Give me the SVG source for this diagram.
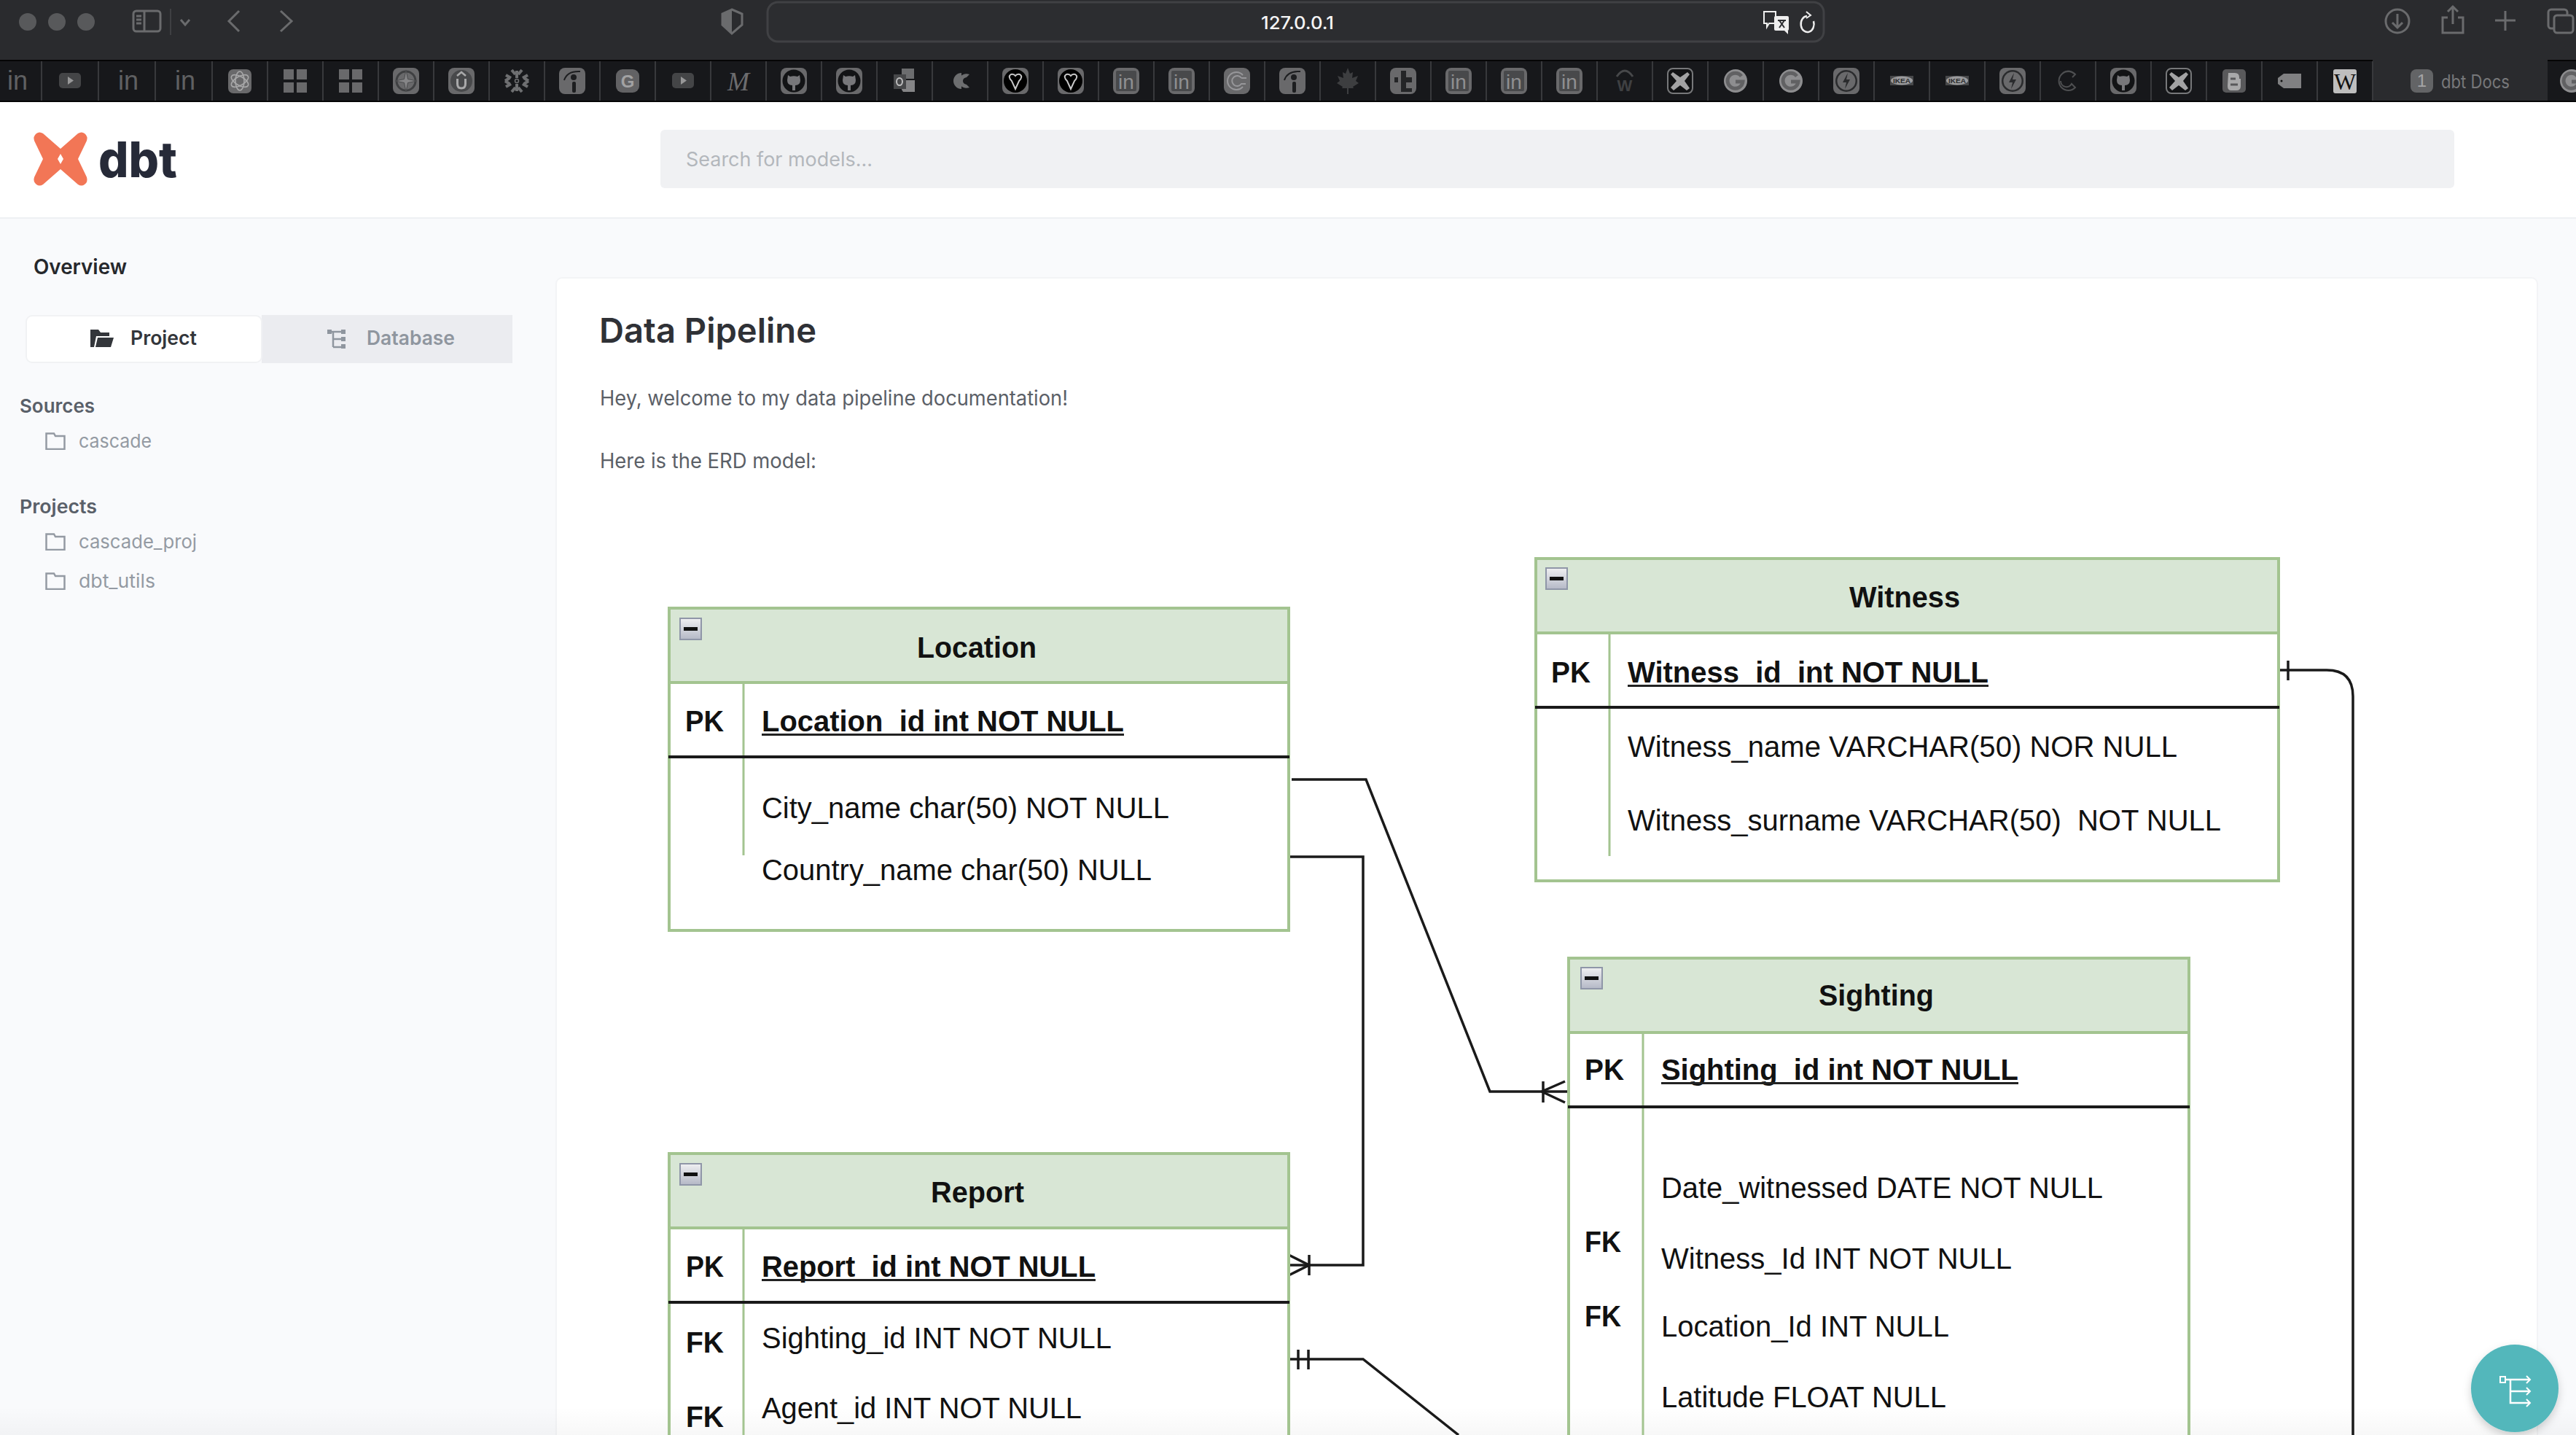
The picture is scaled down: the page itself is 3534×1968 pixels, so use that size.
<svg xmlns="http://www.w3.org/2000/svg" width="3534" height="1968" viewBox="0 0 3534 1968">
<style>
.b{font-family:"Liberation Sans",Arial,sans-serif;font-size:40px;fill:#111;font-weight:400}
.t{font-weight:700}
.u{font-weight:700}
.ul{stroke:#222;stroke-width:3;fill:none}
.m{text-anchor:middle}
.tb{fill:none;stroke:#a3c490;stroke-width:4}
.hd{fill:#d8e6d5;stroke:#a3c490;stroke-width:4}
.v{stroke:#a3c490;stroke-width:3}
.dv{stroke:#1a1a1a;stroke-width:4}
.c{fill:none;stroke:#1a1a1a;stroke-width:3.5}
.i{font-family:Inter,"Liberation Sans",sans-serif}
.w6{font-weight:600}
.sep{stroke:#38393c;stroke-width:2}
.ic{fill:#69696b}
.ol{fill:none;stroke:#6a6b6d;stroke-width:3}
.fo{fill:none;stroke:#949aa3;stroke-width:2.5}
.fi{font-family:"Liberation Sans",sans-serif}
</style>
<defs>
<linearGradient id="mg" x1="0" y1="0" x2="0" y2="1"><stop offset="0" stop-color="#f0f0f2"/><stop offset="1" stop-color="#b4b8c6"/></linearGradient>
<linearGradient id="fade" x1="0" y1="0" x2="0" y2="1"><stop offset="0" stop-color="#000" stop-opacity="0"/><stop offset="1" stop-color="#000" stop-opacity=".03"/></linearGradient>
<filter id="sh" x="-30%" y="-30%" width="160%" height="170%"><feDropShadow dx="0" dy="5" stdDeviation="6" flood-color="#000" flood-opacity=".18"/></filter>
<symbol id="minus" viewBox="0 0 31 31"><rect x="1" y="1" width="29" height="29" fill="url(#mg)" stroke="#8f96a8" stroke-width="2"/><rect x="6" y="13" width="19" height="5" fill="#111"/></symbol>
<symbol id="folder" viewBox="0 0 28 24"><path class="fo" d="M1.5 23V1.5H12L14 5H26.5V23Z"/></symbol>
<symbol id="tree" viewBox="0 0 26 26"><path d="M1 3H25M8 3V24M8 13H20M8 24H20" fill="none" stroke="#8f969f" stroke-width="2.5"/><rect x="0" y="0" width="6" height="6" fill="#8f969f"/><rect x="19" y="0" width="6" height="6" fill="#8f969f"/><rect x="19" y="10" width="6" height="6" fill="#8f969f"/><rect x="19" y="20" width="6" height="6" fill="#8f969f"/></symbol>
<symbol id="iin" viewBox="0 0 36 36"><text x="18" y="30" text-anchor="middle" class="fi" font-size="36" fill="#5f6062">in</text></symbol>
<symbol id="iyt" viewBox="0 0 36 36"><rect x="3" y="7" width="30" height="21" rx="5" fill="#444547"/><path d="M15 12L23 17.500L15 23Z" fill="#979798"/></symbol>
<symbol id="igpt" viewBox="0 0 36 36"><rect x="2" y="2" width="32" height="33" rx="7" class="ic"/><g fill="none" stroke="#a8a8a9" stroke-width="1.6"><ellipse cx="18" cy="18" rx="6" ry="13"/><ellipse cx="18" cy="18" rx="6" ry="13" transform="rotate(60 18 18)"/><ellipse cx="18" cy="18" rx="6" ry="13" transform="rotate(120 18 18)"/></g></symbol>
<symbol id="iwin" viewBox="0 0 36 36"><path class="ic" d="M2 2H16V16H2ZM20 2H34V16H20ZM2 20H16V34H2ZM20 20H34V34H20Z"/></symbol>
<symbol id="icmp" viewBox="0 0 36 36"><rect x="0" y="0" width="36" height="36" rx="8" class="ic"/><circle cx="18" cy="18" r="13" fill="none" stroke="#3f4042" stroke-width="3"/><path d="M18 3L20.500 15.500L33 18L20.500 20.500L18 33L15.500 20.500L3 18L15.500 15.500Z" fill="#858587" stroke="#4a4b4d"/></symbol>
<symbol id="iudm" viewBox="0 0 36 36"><rect x="0" y="0" width="36" height="36" rx="8" class="ic"/><circle cx="18" cy="18" r="15" fill="#48494b"/><path d="M12.500 15V22Q12.500 28 18 28T23.500 22V15" fill="none" stroke="#a9a9aa" stroke-width="3"/><path d="M12 11L18 6L24 11" fill="none" stroke="#a9a9aa" stroke-width="2.500"/></symbol>
<symbol id="isnow" viewBox="0 0 36 36"><g fill="none" stroke="#6e6f71" stroke-width="4"><path d="M18 14V4M18 22V32M10 14L3 10M26 14L33 10M10 22L3 26M26 22L33 26"/><path d="M11 3L16 9M25 3L20 9M11 33L16 27M25 33L20 27M2 18L8 14M2 18L8 22M34 18L28 14M34 18L28 22"/></g><circle cx="18" cy="18" r="2.500" fill="none" stroke="#6e6f71" stroke-width="1.500"/></symbol>
<symbol id="iind" viewBox="0 0 36 36"><rect x="0" y="0" width="36" height="36" rx="8" class="ic"/><path d="M7 17Q11 4 29 5" fill="none" stroke="#1d1e20" stroke-width="2"/><circle cx="20" cy="13" r="4" fill="#1d1e20"/><rect x="18" y="19" width="5" height="15" rx="2" fill="#1d1e20"/></symbol>
<symbol id="igg" viewBox="0 0 36 36"><rect x="2" y="2" width="32" height="32" rx="9" fill="#626264"/><text x="18" y="27" text-anchor="middle" class="fi" font-weight="700" font-size="24" fill="#a2a2a3">G</text></symbol>
<symbol id="imed" viewBox="0 0 36 36"><text x="18" y="31" text-anchor="middle" font-family="Liberation Serif" font-style="italic" font-size="36" fill="#6c6c6e">M</text></symbol>
<symbol id="igh" viewBox="0 0 36 36"><rect x="0" y="0" width="36" height="36" rx="8" class="ic"/><circle cx="18" cy="18" r="15.500" fill="#121315"/><path d="M10 10L13 12Q18 10.500 23 12L26 10L27 17Q27 24 20 24V31H16V24Q9 24 9 17Z" fill="#77777a"/></symbol>
<symbol id="iout" viewBox="0 0 36 36"><path d="M14 1H31V15H14Z" fill="#6c6d6f"/><path d="M14 17H32V33H16L14 30Z" fill="#858587"/><rect x="3" y="9" width="17" height="20" fill="#47484a"/><ellipse cx="11" cy="19" rx="4" ry="5" fill="none" stroke="#bdbdbe" stroke-width="2"/></symbol>
<symbol id="icc" viewBox="0 0 36 36"><path d="M20 7A11 11 0 1 0 20 29Z" fill="#6d6e70"/><path d="M31 9A11 11 0 0 0 16 18A11 11 0 0 0 31 27L27 23Q22 22 22 18T27 13Z" fill="#6d6e70"/></symbol>
<symbol id="iont" viewBox="0 0 36 36"><rect x="0" y="0" width="36" height="36" rx="8" class="ic"/><circle cx="18" cy="18" r="16" fill="#000"/><path d="M18 29L13 18Q7 12 12 9Q16 8 18 11Q20 8 24 9Q29 12 23 18Z" fill="none" stroke="#c8c8c9" stroke-width="2"/></symbol>
<symbol id="ili" viewBox="0 0 36 36"><rect x="0" y="0" width="36" height="36" rx="8" class="ic"/><rect x="4" y="4" width="28" height="28" rx="2" fill="#48494b"/><text x="18" y="29" text-anchor="middle" class="fi" font-size="28" fill="#8f8f91">in</text></symbol>
<symbol id="icb" viewBox="0 0 36 36"><rect x="0" y="0" width="36" height="36" rx="9" class="ic"/><path d="M26 10A12 12 0 1 0 26 26M24 14A7 7 0 1 0 24 22H30M24 14H31" fill="none" stroke="#97979a" stroke-width="2"/></symbol>
<symbol id="imap" viewBox="0 0 36 36"><path d="M18 0L21 8L25 6L24 14L32 11L29 18L33 21L25 26L26 28H19V36H17V28H10L11 26L3 21L7 18L4 11L12 14L11 6L15 8Z" fill="#3d3e40"/></symbol>
<symbol id="it" viewBox="0 0 36 36"><rect x="0" y="0" width="36" height="36" rx="8" class="ic"/><path d="M15 4H22V13H30V20H22V28H30V33H15ZM6 13H11V20H6Z" fill="#242527"/></symbol>
<symbol id="iw" viewBox="0 0 36 36"><path d="M7 12Q18 -4 29 12" fill="none" stroke="#47484a" stroke-width="3"/><text x="18" y="32" text-anchor="middle" class="fi" font-weight="700" font-size="22" fill="#3f4042">W</text></symbol>
<symbol id="ix" viewBox="0 0 36 36"><rect x="1" y="1" width="34" height="34" rx="7" fill="#111214" stroke="#77787a" stroke-width="2"/><path d="M8 6L18 13L28 6L31 9L24 18L31 28L27 31L18 24L9 31L5 27L13 18L5 9Z" fill="#a2a2a3"/></symbol>
<symbol id="igc" viewBox="0 0 36 36"><circle cx="18" cy="18" r="16" fill="#8e8e90"/><path d="M26 11.500A10.500 10.500 0 1 0 28 19H18" fill="none" stroke="#616163" stroke-width="5"/></symbol>
<symbol id="ibo" viewBox="0 0 36 36"><rect x="0" y="0" width="36" height="36" rx="8" class="ic"/><circle cx="18" cy="18" r="15" fill="#2a2b2d"/><circle cx="18" cy="18" r="12.500" fill="#69696b"/><path d="M20 7L13 20H18L16 29L23 16H18Z" fill="#2a2b2d"/></symbol>
<symbol id="iik" viewBox="0 0 36 36"><rect x="2" y="11" width="32" height="13" fill="#47484a"/><ellipse cx="18" cy="17.500" rx="15" ry="6" fill="#9a9a9c"/><text x="18" y="21" text-anchor="middle" class="fi" font-weight="700" font-size="9.500" fill="#2b2c2e" textLength="24" lengthAdjust="spacingAndGlyphs">IKEA</text></symbol>
<symbol id="icr" viewBox="0 0 36 36"><path d="M28 9A13 13 0 1 0 28 27L23 22A8 8 0 0 1 8 18" fill="none" stroke="#4e4f51" stroke-width="2"/><path d="M11 7Q19 1 28 9L24 13" fill="none" stroke="#4e4f51" stroke-width="2"/></symbol>
<symbol id="ibl" viewBox="0 0 36 36"><rect x="2" y="2" width="32" height="32" rx="5" fill="#59595b"/><path d="M10 7H19Q25 7 25 13V15H27V25Q27 31 21 31H14Q9 31 9 25Z" fill="#a9a9aa"/><path d="M13 15H20M13 23H23" stroke="#59595b" stroke-width="3"/></symbol>
<symbol id="itag" viewBox="0 0 36 36"><path d="M10 8H34V28H10L2 22V14Z" fill="#808082"/><circle cx="7" cy="18" r="1.500" fill="#111"/></symbol>
<symbol id="iwk" viewBox="0 0 36 36"><rect x="2" y="2" width="32" height="33" rx="3" fill="#bebebe"/><text x="18" y="30" text-anchor="middle" font-family="Liberation Serif" font-size="32" fill="#111">W</text></symbol>
</defs>

<g id="page">
<rect width="3534" height="1968" fill="#f9fafc"/>
<rect y="139" width="3534" height="159" fill="#fff"/>
<rect y="298" width="3534" height="2" fill="#eef0f3"/>
<rect x="763" y="381" width="2718" height="1600" rx="8" fill="#fff" stroke="#f3f4f6" stroke-width="2"/>
<rect y="1930" width="3534" height="38" fill="url(#fade)"/>
</g>

<g id="browser-toolbar">
<rect width="3534" height="82" fill="#2a2b2e"/>
<rect y="82" width="3534" height="2" fill="#050505"/>
<ellipse cx="38" cy="30" rx="12" ry="12" fill="#58595b"/>
<ellipse cx="78" cy="30" rx="12" ry="12" fill="#58595b"/>
<ellipse cx="118" cy="30" rx="12" ry="12" fill="#58595b"/>
<rect x="183" y="15" width="37" height="28" rx="4" class="ol"/>
<path d="M198 15V43M187 22H194M187 27H194M187 32H194" class="ol" stroke-width="2"/>
<path d="M234 12V48" stroke="#3f4043" stroke-width="2"/>
<path d="M248 27L254 34L260 27" class="ol"/>
<path d="M328 15L314 29L328 43M385 15L400 29L385 43" class="ol"/>
<path d="M1004 13L991 19V34L1004 46L1018 34V19Z" class="ol"/>
<path d="M1004 13L991 19V34L1004 46Z" fill="#6a6b6d"/>
<rect x="1053" y="3" width="1449" height="54" rx="14" fill="#2c2d30" stroke="#404144" stroke-width="3"/>
<text x="1780" y="40" text-anchor="middle" font-family="Inter,Liberation Sans,sans-serif" font-weight="500" font-size="24" fill="#f5f5f5" textLength="100" lengthAdjust="spacingAndGlyphs">127.0.0.1</text>
<path d="M2420 16H2436V32H2427L2424 37V32H2420Z" fill="#2c2d30" stroke="#eee" stroke-width="2"/>
<rect x="2434" y="22" width="20" height="20" rx="2" fill="#eee"/>
<path d="M2448 42L2453 42L2453 47Z" fill="#eee"/>
<path d="M2439 28H2450M2441 38L2448 28M2448 38L2441 28" stroke="#2c2d30" stroke-width="2"/>
<path d="M2479 22A9 11 0 1 0 2488 29" fill="none" stroke="#eee" stroke-width="2.500"/>
<path d="M2478 16L2484 21L2478 25" fill="none" stroke="#eee" stroke-width="2"/>
<circle cx="3289" cy="29" r="16" class="ol"/>
<path d="M3289 19V38M3282 31L3289 38L3296 31" class="ol"/>
<path d="M3358 24H3351V45H3379V24H3372M3365 9V33M3358 16L3365 9L3372 16" class="ol"/>
<path d="M3437 15V42M3423 28H3451" class="ol"/>
<rect x="3496" y="13" width="26" height="26" rx="4" class="ol"/>
<rect x="3504" y="21" width="26" height="24" rx="4" fill="#2a2b2e" stroke="#6a6b6d" stroke-width="3"/>
</g>

<g id="tab-bar">
<rect y="84" width="3534" height="54" fill="#17181b"/>
<rect x="3255" y="82" width="240" height="56" fill="#2a2b2e"/>
<rect y="138" width="3534" height="2" fill="#050505"/>
<path class="sep" d="M57 84V138M135 84V138M213 84V138M291 84V138M367 84V138M443 84V138M519 84V138M595 84V138M671 84V138M747 84V138M823 84V138M899 84V138M975 84V138M1051 84V138M1127 84V138M1203 84V138M1279 84V138M1355 84V138M1431 84V138M1507 84V138M1583 84V138M1659 84V138M1735 84V138M1811 84V138M1887 84V138M1963 84V138M2039 84V138M2115 84V138M2191 84V138M2267 84V138M2343 84V138M2419 84V138M2495 84V138M2571 84V138M2647 84V138M2723 84V138M2799 84V138M2875 84V138M2951 84V138M3027 84V138M3103 84V138M3179 84V138M3255 84V138"/>
<use href="#iin" x="6" y="93" width="36" height="36"/>
<use href="#iyt" x="78" y="93" width="36" height="36"/>
<use href="#iin" x="158" y="93" width="36" height="36"/>
<use href="#iin" x="236" y="93" width="36" height="36"/>
<use href="#igpt" x="311" y="93" width="36" height="36"/>
<use href="#iwin" x="387" y="93" width="36" height="36"/>
<use href="#iwin" x="463" y="93" width="36" height="36"/>
<use href="#icmp" x="539" y="93" width="36" height="36"/>
<use href="#iudm" x="615" y="93" width="36" height="36"/>
<use href="#isnow" x="691" y="93" width="36" height="36"/>
<use href="#iind" x="767" y="93" width="36" height="36"/>
<use href="#igg" x="843" y="93" width="36" height="36"/>
<use href="#iyt" x="919" y="93" width="36" height="36"/>
<use href="#imed" x="995" y="93" width="36" height="36"/>
<use href="#igh" x="1071" y="93" width="36" height="36"/>
<use href="#igh" x="1147" y="93" width="36" height="36"/>
<use href="#iout" x="1223" y="93" width="36" height="36"/>
<use href="#icc" x="1299" y="93" width="36" height="36"/>
<use href="#iont" x="1375" y="93" width="36" height="36"/>
<use href="#iont" x="1451" y="93" width="36" height="36"/>
<use href="#ili" x="1527" y="93" width="36" height="36"/>
<use href="#ili" x="1603" y="93" width="36" height="36"/>
<use href="#icb" x="1679" y="93" width="36" height="36"/>
<use href="#iind" x="1755" y="93" width="36" height="36"/>
<use href="#imap" x="1831" y="93" width="36" height="36"/>
<use href="#it" x="1907" y="93" width="36" height="36"/>
<use href="#ili" x="1983" y="93" width="36" height="36"/>
<use href="#ili" x="2059" y="93" width="36" height="36"/>
<use href="#ili" x="2135" y="93" width="36" height="36"/>
<use href="#iw" x="2211" y="93" width="36" height="36"/>
<use href="#ix" x="2287" y="93" width="36" height="36"/>
<use href="#igc" x="2363" y="93" width="36" height="36"/>
<use href="#igc" x="2439" y="93" width="36" height="36"/>
<use href="#ibo" x="2515" y="93" width="36" height="36"/>
<use href="#iik" x="2591" y="93" width="36" height="36"/>
<use href="#iik" x="2667" y="93" width="36" height="36"/>
<use href="#ibo" x="2743" y="93" width="36" height="36"/>
<use href="#icr" x="2819" y="93" width="36" height="36"/>
<use href="#igh" x="2895" y="93" width="36" height="36"/>
<use href="#ix" x="2971" y="93" width="36" height="36"/>
<use href="#ibl" x="3047" y="93" width="36" height="36"/>
<use href="#itag" x="3123" y="93" width="36" height="36"/>
<use href="#iwk" x="3199" y="93" width="36" height="36"/>
<rect x="3307" y="95" width="31" height="32" rx="8" fill="#636466"/>
<text x="3322.500" y="119" text-anchor="middle" font-family="Liberation Sans,sans-serif" font-size="24" fill="#a5a5a6">1</text>
<text x="3349" y="121" font-family="Inter,Liberation Sans,sans-serif" font-size="25" fill="#77787a" textLength="94" lengthAdjust="spacingAndGlyphs">dbt Docs</text>
<use href="#igc" x="3510" y="93" width="36" height="36"/>
</g>

<g id="site-header">
<path d="M50 183Q54 180 59 183L83 204L107 183Q112 180 116 183Q121 187 119 193L107 218L119 243Q121 250 116 253Q112 256 107 253L83 232L59 253Q54 256 50 253Q45 249 47 243L59 218L47 193Q45 187 50 183ZM83 211L79 218L83 225L87 218Z" fill="#f27656" fill-rule="evenodd"/>
<text x="135" y="243" class="i" font-weight="800" font-size="68" fill="#262a38" textLength="108" lengthAdjust="spacingAndGlyphs">dbt</text>
<rect x="906" y="178" width="2461" height="80" rx="6" fill="#f0f1f3"/>
<text x="941" y="228" class="i" font-size="27" fill="#b3b7bc" textLength="256" lengthAdjust="spacingAndGlyphs">Search for models...</text>
</g>

<g id="sidebar">
<text x="46" y="376" class="i w6" font-size="28" fill="#26282c" textLength="128" lengthAdjust="spacingAndGlyphs">Overview</text>
<rect x="359" y="432" width="344" height="66" fill="#ebecf0"/>
<rect x="36" y="433" width="323" height="64" rx="8" fill="#fff" stroke="#f1f2f4" stroke-width="2"/>
<path d="M124 476V452H135L138 456H150V461H132L129 476ZM131 476L134 463H156L152 476Z" fill="#33363b"/>
<text x="179" y="473" class="i w6" font-size="27" fill="#33363b" textLength="91" lengthAdjust="spacingAndGlyphs">Project</text>
<use href="#tree" x="449" y="452" width="26" height="26"/>
<text x="503" y="473" class="i w6" font-size="27" fill="#8f969f" textLength="121" lengthAdjust="spacingAndGlyphs">Database</text>
<text x="27" y="566" class="i w6" font-size="26" fill="#5a6069" textLength="103" lengthAdjust="spacingAndGlyphs">Sources</text>
<use href="#folder" x="62" y="593" width="28" height="24"/>
<text x="108" y="614" class="i" font-size="26" fill="#949aa3" textLength="100" lengthAdjust="spacingAndGlyphs">cascade</text>
<text x="27" y="704" class="i w6" font-size="26" fill="#5a6069" textLength="106" lengthAdjust="spacingAndGlyphs">Projects</text>
<use href="#folder" x="62" y="731" width="28" height="24"/>
<text x="108" y="752" class="i" font-size="26" fill="#949aa3" textLength="162" lengthAdjust="spacingAndGlyphs">cascade_proj</text>
<use href="#folder" x="62" y="785" width="28" height="24"/>
<text x="108" y="806" class="i" font-size="26" fill="#949aa3" textLength="105" lengthAdjust="spacingAndGlyphs">dbt_utils</text>
</g>

<g id="content-text">
<text x="822" y="470" class="i w6" font-size="47" fill="#2f3136" textLength="298" lengthAdjust="spacingAndGlyphs">Data Pipeline</text>
<text x="823" y="556" class="i" font-size="28" fill="#5b6067" textLength="642" lengthAdjust="spacingAndGlyphs">Hey, welcome to my data pipeline documentation!</text>
<text x="823" y="642" class="i" font-size="28" fill="#5b6067" textLength="297" lengthAdjust="spacingAndGlyphs">Here is the ERD model:</text>
</g>

<g id="connectors">
<path class="c" d="M1772 1069H1874L2044 1497H2150"/>
<path class="c" d="M2115 1497L2147 1483M2115 1497L2147 1512M2117 1483V1512" stroke-width="3"/>
<path class="c" d="M1768 1175H1870V1735H1768"/>
<path class="c" d="M1796 1735L1768 1721M1796 1735L1768 1749M1796 1721V1749" stroke-width="3"/>
<path class="c" d="M1768 1864H1870L2001 1968"/>
<path class="c" d="M1781 1851V1878M1795 1851V1878" stroke-width="3"/>
<path class="c" d="M3126 919H3192Q3228 919 3228 955V1968"/>
<path class="c" d="M3139 906V933" stroke-width="3"/>
</g>

<g id="location">
<rect class="tb" x="918" y="834" width="850" height="442" fill="#fff"/>
<rect class="hd" x="918" y="834" width="850" height="102"/>
<path class="v" d="M1020 936V1173"/>
<path class="dv" d="M917 1038H1769"/>
<use href="#minus" x="932" y="847" width="31" height="31"/>
<text class="b t m" x="1340" y="902" textLength="164" lengthAdjust="spacingAndGlyphs">Location</text>
<text class="b t" x="940" y="1003" textLength="53" lengthAdjust="spacingAndGlyphs">PK</text>
<text class="b u" x="1045" y="1003" textLength="497" lengthAdjust="spacingAndGlyphs">Location_id int NOT NULL</text>
<path class="ul" d="M1045 1007.500H1542"/>
<text class="b" x="1045" y="1122" textLength="559" lengthAdjust="spacingAndGlyphs">City_name char(50) NOT NULL</text>
<text class="b" x="1045" y="1207" textLength="535" lengthAdjust="spacingAndGlyphs">Country_name char(50) NULL</text>
</g>

<g id="witness">
<rect class="tb" x="2107" y="766" width="1019" height="442"/>
<rect class="hd" x="2107" y="766" width="1019" height="102"/>
<path class="v" d="M2208 868V1174"/>
<path class="dv" d="M2106 970H3127"/>
<use href="#minus" x="2120" y="778" width="31" height="31"/>
<text class="b t m" x="2613" y="833" textLength="152" lengthAdjust="spacingAndGlyphs">Witness</text>
<text class="b t" x="2128" y="936" textLength="54" lengthAdjust="spacingAndGlyphs">PK</text>
<text class="b u" x="2233" y="936" textLength="495" lengthAdjust="spacingAndGlyphs">Witness_id&#160; int NOT NULL</text>
<path class="ul" d="M2233 940.500H2728"/>
<text class="b" x="2233" y="1038" textLength="754" lengthAdjust="spacingAndGlyphs">Witness_name VARCHAR(50) NOR NULL</text>
<text class="b" x="2233" y="1139" textLength="814" lengthAdjust="spacingAndGlyphs">Witness_surname VARCHAR(50)&#160; NOT NULL</text>
</g>

<g id="sighting">
<path class="tb" d="M2152 1314V1968M3003 1314V1968"/>
<rect class="hd" x="2152" y="1314" width="851" height="102"/>
<path class="v" d="M2254 1416V1968"/>
<path class="dv" d="M2151 1518H3004"/>
<use href="#minus" x="2168" y="1326" width="31" height="31"/>
<text class="b t m" x="2574" y="1379" textLength="158" lengthAdjust="spacingAndGlyphs">Sighting</text>
<text class="b t" x="2174" y="1481" textLength="54" lengthAdjust="spacingAndGlyphs">PK</text>
<text class="b u" x="2279" y="1481" textLength="490" lengthAdjust="spacingAndGlyphs">Sighting_id int NOT NULL</text>
<path class="ul" d="M2279 1485.500H2769"/>
<text class="b" x="2279" y="1643" textLength="606" lengthAdjust="spacingAndGlyphs">Date_witnessed DATE NOT NULL</text>
<text class="b t" x="2174" y="1717" textLength="50" lengthAdjust="spacingAndGlyphs">FK</text>
<text class="b" x="2279" y="1740" textLength="481" lengthAdjust="spacingAndGlyphs">Witness_Id INT NOT NULL</text>
<text class="b t" x="2174" y="1819" textLength="50" lengthAdjust="spacingAndGlyphs">FK</text>
<text class="b" x="2279" y="1833" textLength="395" lengthAdjust="spacingAndGlyphs">Location_Id INT NULL</text>
<text class="b" x="2279" y="1930" textLength="391" lengthAdjust="spacingAndGlyphs">Latitude FLOAT NULL</text>
</g>

<g id="report">
<path class="tb" d="M918 1582V1968M1768 1582V1968"/>
<rect class="hd" x="918" y="1582" width="850" height="102"/>
<path class="v" d="M1020 1684V1968"/>
<path class="dv" d="M917 1786H1769"/>
<use href="#minus" x="932" y="1595" width="31" height="31"/>
<text class="b t m" x="1341" y="1649" textLength="128" lengthAdjust="spacingAndGlyphs">Report</text>
<text class="b t" x="941" y="1751" textLength="52" lengthAdjust="spacingAndGlyphs">PK</text>
<text class="b u" x="1045" y="1751" textLength="458" lengthAdjust="spacingAndGlyphs">Report_id int NOT NULL</text>
<path class="ul" d="M1045 1755.500H1503"/>
<text class="b t" x="941" y="1855" textLength="52" lengthAdjust="spacingAndGlyphs">FK</text>
<text class="b" x="1045" y="1849" textLength="480" lengthAdjust="spacingAndGlyphs">Sighting_id INT NOT NULL</text>
<text class="b t" x="941" y="1957" textLength="52" lengthAdjust="spacingAndGlyphs">FK</text>
<text class="b" x="1045" y="1945" textLength="439" lengthAdjust="spacingAndGlyphs">Agent_id INT NOT NULL</text>
</g>

<g id="fab">
<circle cx="3450" cy="1904" r="60" fill="#52b7bb" filter="url(#sh)"/>
<path d="M3436 1892H3470M3444 1892V1924H3470M3444 1908H3470" fill="none" stroke="#fff" stroke-width="2.500"/>
<rect x="3430" y="1888" width="7" height="8" fill="#52b7bb" stroke="#fff" stroke-width="2"/>
<path d="M3466 1887L3471 1892L3466 1897M3466 1903L3471 1908L3466 1913M3466 1919L3471 1924L3466 1929" fill="none" stroke="#fff" stroke-width="2"/>
</g>
</svg>
